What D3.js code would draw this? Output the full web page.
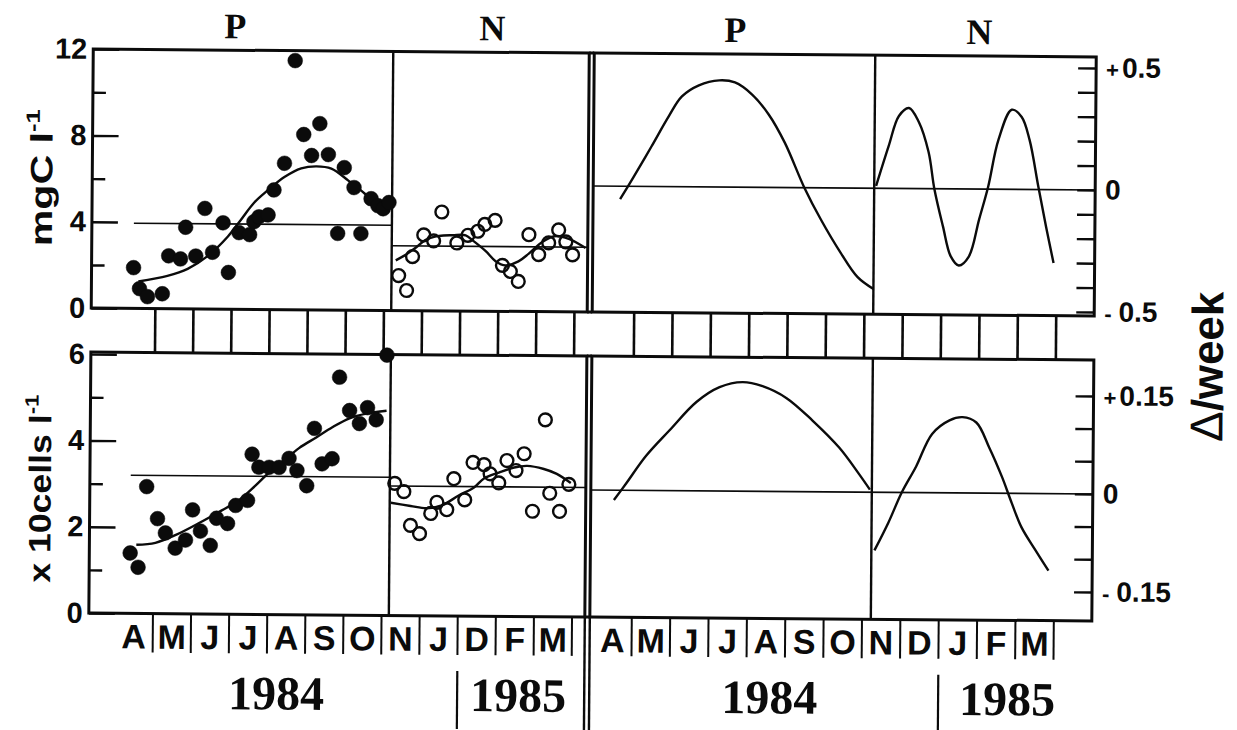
<!DOCTYPE html>
<html>
<head>
<meta charset="utf-8">
<script src="https://cdn.jsdelivr.net/npm/d3@7"></script>
<style>
  html, body { margin: 0; padding: 0; background: #fff; }
  svg { display: block; }
</style>
</head>
<body>
<svg id="chart" width="1237" height="730"></svg>
<script>
// ---------------------------------------------------------------------------
// Data. x values are months elapsed since 1 April 1984.
// ---------------------------------------------------------------------------
const monthsObserved = ["A", "M", "J", "J", "A", "S", "O", "N", "J", "D", "F", "M"];
const monthsRates    = ["A", "M", "J", "J", "A", "S", "O", "N", "D", "J", "F", "M"];
const yearLabels = ["1984", "1985"];
const panelTitles = ["P", "N"];

// Left axes
const carbonTicks = [0, 4, 8, 12];
const carbonMinorTicks = [2, 6, 10];
const cellTicks = [0, 2, 4, 6];
const cellMinorTicks = [1, 3, 5];

// Right axes (rate of change per week)
const carbonRateTicks = [-0.5, -0.4, -0.3, -0.2, -0.1, 0, 0.1, 0.2, 0.3, 0.4, 0.5];
const carbonRateLabelValues = [-0.5, 0, 0.5];
const carbonRateLabels = ["-0.5", "0", "+0.5"];
const cellRateTicks = [-0.15, -0.1, -0.05, 0, 0.05, 0.1, 0.15];
const cellRateLabelValues = [-0.15, 0, 0.15];
const cellRateLabels = ["-0.15", "0", "+0.15"];

// Carbon (mgC l-1), P period: observations and fitted curve
const carbonP = [
  [0.42, 1.89], [0.58, 0.92], [0.79, 0.55], [1.18, 0.69], [1.34, 2.45], [1.65, 2.31],
  [1.78, 3.78], [2.05, 2.45], [2.28, 4.66], [2.49, 2.63], [2.76, 4.00], [2.91, 1.70],
  [3.18, 3.55], [3.46, 3.46], [3.57, 4.06], [3.70, 4.29], [3.94, 4.38], [4.09, 5.54],
  [4.36, 6.78], [4.62, 11.54], [4.86, 8.12], [5.07, 7.15], [5.28, 8.63], [5.51, 7.20],
  [5.77, 3.55], [5.93, 6.60], [6.19, 5.68], [6.38, 3.55], [6.64, 5.17], [6.82, 4.85],
  [6.96, 4.71], [7.11, 5.00]
];
const carbonFitP = [
  [0.55, 1.25], [1.31, 1.52], [1.84, 1.85], [2.36, 2.45], [2.89, 3.37], [3.23, 4.15],
  [3.57, 4.94], [3.94, 5.54], [4.36, 6.14], [4.80, 6.55], [5.20, 6.65], [5.59, 6.55],
  [6.04, 6.00], [6.38, 5.54], [6.72, 5.08], [7.09, 4.94]
];
const carbonMeanP = 3.95;

// Carbon, N period
const carbonN = [
  [7.38, 1.62], [7.59, 0.93], [7.74, 2.50], [8.03, 3.51], [8.29, 3.24], [8.50, 4.58],
  [8.90, 3.15], [9.19, 3.51], [9.45, 3.70], [9.63, 4.02], [9.90, 4.21], [10.10, 2.13],
  [10.31, 1.85], [10.52, 1.39], [10.79, 3.56], [11.05, 2.64], [11.31, 3.19], [11.57, 3.79],
  [11.76, 3.24], [11.94, 2.64]
];
const carbonFitN = [
  [7.30, 2.32], [7.56, 2.59], [7.82, 2.91], [8.08, 3.28], [8.43, 3.47], [8.79, 3.51],
  [9.13, 3.51], [9.34, 3.24], [9.66, 2.78], [9.92, 2.32], [10.18, 2.13], [10.52, 2.32],
  [10.79, 2.68], [11.15, 3.24], [11.50, 3.51], [11.84, 3.38], [12.28, 2.96]
];
const carbonMeanN = 3.0;

// Cells (x10 cells l-1), P period
const cellsP = [
  [0.39, 1.40], [0.60, 1.07], [0.81, 2.94], [1.10, 2.20], [1.31, 1.87], [1.57, 1.52],
  [1.84, 1.71], [2.02, 2.41], [2.23, 1.92], [2.49, 1.59], [2.65, 2.22], [2.94, 2.10],
  [3.15, 2.52], [3.46, 2.64], [3.57, 3.71], [3.75, 3.41], [4.02, 3.41], [4.28, 3.41],
  [4.54, 3.62], [4.75, 3.34], [5.01, 2.99], [5.20, 4.32], [5.41, 3.50], [5.67, 3.62],
  [5.85, 5.51], [6.12, 4.74], [6.38, 4.44], [6.59, 4.81], [6.82, 4.53], [7.09, 6.03]
];
const cellsFitP = [
  [0.55, 1.59], [1.05, 1.64], [1.57, 1.82], [2.18, 2.10], [2.70, 2.36], [3.23, 2.64],
  [3.67, 2.99], [4.02, 3.29], [4.36, 3.53], [4.80, 3.86], [5.25, 4.11], [5.67, 4.35],
  [6.12, 4.56], [6.56, 4.67], [7.09, 4.74]
];
const cellsMeanP = 3.2;

// Cells, N period
const cellsN = [
  [7.32, 3.06], [7.56, 2.87], [7.74, 2.09], [7.98, 1.90], [8.27, 2.37], [8.43, 2.63],
  [8.69, 2.46], [8.87, 3.18], [9.16, 2.69], [9.37, 3.56], [9.66, 3.51], [9.82, 3.30],
  [10.05, 3.09], [10.26, 3.61], [10.50, 3.38], [10.71, 3.77], [10.94, 2.44], [11.26, 4.56],
  [11.39, 2.86], [11.65, 2.44], [11.89, 3.07]
];
const cellsFitN = [
  [7.22, 2.61], [7.74, 2.54], [8.16, 2.49], [8.56, 2.56], [9.00, 2.79], [9.40, 2.98],
  [9.66, 3.19], [10.05, 3.33], [10.45, 3.45], [10.79, 3.49], [11.23, 3.42], [11.57, 3.31],
  [11.94, 3.10]
];
const cellsMeanN = 3.0;

// Weekly rates of change derived from the fitted curves
const rateCarbonP = [
  [0.61, -0.053], [0.97, 0.042], [1.42, 0.165], [1.86, 0.288], [2.20, 0.370], [2.64, 0.416],
  [3.17, 0.437], [3.58, 0.429], [4.03, 0.380], [4.47, 0.298], [4.89, 0.184], [5.41, 0.000],
  [5.85, -0.131], [6.37, -0.266], [6.81, -0.364], [7.23, -0.413]
];
const rateCarbonN = [
  [7.28, 0.010], [7.60, 0.174], [7.86, 0.297], [8.12, 0.330], [8.38, 0.273], [8.64, 0.150],
  [8.80, -0.002], [9.03, -0.154], [9.24, -0.277], [9.45, -0.314], [9.71, -0.277], [9.97, -0.125],
  [10.20, 0.010], [10.46, 0.203], [10.80, 0.326], [11.06, 0.297], [11.27, 0.203], [11.51, 0.010],
  [11.72, -0.154], [11.92, -0.301]
];
const rateCellsP = [
  [0.51, -0.015], [0.82, 0.010], [1.34, 0.053], [1.94, 0.092], [2.64, 0.136], [3.24, 0.159],
  [3.84, 0.167], [4.36, 0.161], [4.99, 0.143], [5.67, 0.109], [6.37, 0.068], [6.89, 0.028],
  [7.18, 0.004]
];
const rateCellsN = [
  [7.31, -0.089], [7.67, -0.046], [8.01, 0.000], [8.38, 0.040], [8.79, 0.090], [9.24, 0.111],
  [9.58, 0.116], [9.94, 0.108], [10.28, 0.070], [10.62, 0.025], [10.88, -0.015], [11.14, -0.052],
  [11.51, -0.087], [11.85, -0.118]
];

// ---------------------------------------------------------------------------
// Layout
// ---------------------------------------------------------------------------
const rowTop = { y0: 53, y1: 312 };
const rowBot = { y0: 356, y1: 617 };
const figL = { x0: 91, div: 391, x1: 587 };
const figR = { x0: 592, div: 873, x1: 1094 };

const ink = "#0b0b0b";
const fontSans = "'Liberation Sans', Arial, Helvetica, sans-serif";
const fontNarrow = "'Liberation Sans Narrow', 'Arial Narrow', 'Liberation Sans', Arial, sans-serif";
const fontSerif = "'Liberation Serif', 'Times New Roman', Times, serif";

// Scales
const xL = d3.scaleLinear().domain([0, 12]).range([117, 574.2]);
const xR = d3.scaleLinear().domain([0, 12]).range([595.6, 1056]);
const yCarbon = d3.scaleLinear().domain([0, 12]).range([rowTop.y1, rowTop.y0]);
const yCells = d3.scaleLinear().domain([0, 6]).range([rowBot.y1, 358]);
const yCarbonRate = d3.scaleLinear().domain([-0.5, 0.5]).range([308, 64]);
const yCellRate = d3.scaleLinear().domain([-0.15, 0.15]).range([588, 392]);

const svg = d3.select("#chart");
// the whole plate sits at a very slight tilt
const root = svg.append("g").attr("transform", "rotate(0.45 588 340)");

function hline(g, x0, x1, y, w) {
  g.append("line").attr("x1", x0).attr("x2", x1).attr("y1", y).attr("y2", y)
    .attr("stroke", ink).attr("stroke-width", w);
}
function vline(g, x, y0, y1, w) {
  g.append("line").attr("x1", x).attr("x2", x).attr("y1", y0).attr("y2", y1)
    .attr("stroke", ink).attr("stroke-width", w);
}

// ---------------------------------------------------------------------------
// Frames
// ---------------------------------------------------------------------------
const frames = root.append("g").attr("fill", "none");
[rowTop, rowBot].forEach(row => {
  [figL, figR].forEach(f => {
    frames.append("rect")
      .attr("x", f.x0).attr("y", row.y0)
      .attr("width", f.x1 - f.x0).attr("height", row.y1 - row.y0)
      .attr("stroke", ink).attr("stroke-width", 3);
    vline(frames, f.div, row.y0, row.y1, 2.4);
  });
  hline(frames, figL.x1, figR.x0, row.y0, 3);
  hline(frames, figL.x1, figR.x0, row.y1, 3);
});

// month ruler between the two rows
for (let i = 1; i <= 12; i++) {
  vline(frames, xL(i), rowTop.y1, rowBot.y0, 2.6);
  vline(frames, xR(i), rowTop.y1, rowBot.y0, 2.6);
}

// month separators under the lower row
for (let i = 1; i <= 12; i++) {
  vline(frames, xL(i), rowBot.y1, 656, 2);
  vline(frames, xR(i), rowBot.y1, 656, 2);
}
// double rule continues down between the two halves
vline(frames, figL.x1, rowBot.y1, 730, 2.4);
vline(frames, figR.x0, rowBot.y1, 730, 2.4);
// year break
vline(frames, xL(9), 672, 730, 2.2);
vline(frames, xR(9), 672, 730, 2.2);

// ---------------------------------------------------------------------------
// Reference lines
// ---------------------------------------------------------------------------
const refs = root.append("g");
hline(refs, xL(carbonP[0][0]), figL.div, yCarbon(carbonMeanP), 1.6);
hline(refs, figL.div, figL.x1, yCarbon(carbonMeanN), 1.6);
hline(refs, xL(cellsP[0][0]), figL.div, yCells(cellsMeanP), 1.6);
hline(refs, figL.div, figL.x1, yCells(cellsMeanN), 1.6);
hline(refs, figR.x0, figR.x1, yCarbonRate(0), 1.6);
hline(refs, figR.x0, figR.x1, yCellRate(0), 1.6);

// ---------------------------------------------------------------------------
// Curves
// ---------------------------------------------------------------------------
function curve(data, xs, ys) {
  root.append("path")
    .datum(data)
    .attr("fill", "none")
    .attr("stroke", ink)
    .attr("stroke-width", 2.4)
    .attr("stroke-linejoin", "round")
    .attr("d", d3.line().x(d => xs(d[0])).y(d => ys(d[1])).curve(d3.curveCatmullRom.alpha(0.5)));
}
curve(carbonFitP, xL, yCarbon);
curve(carbonFitN, xL, yCarbon);
curve(cellsFitP, xL, yCells);
curve(cellsFitN, xL, yCells);
curve(rateCarbonP, xR, yCarbonRate);
curve(rateCarbonN, xR, yCarbonRate);
curve(rateCellsP, xR, yCellRate);
curve(rateCellsN, xR, yCellRate);

// ---------------------------------------------------------------------------
// Observations
// ---------------------------------------------------------------------------
function dots(data, ys, filled) {
  root.append("g").selectAll("circle").data(data).join("circle")
    .attr("cx", d => xL(d[0]))
    .attr("cy", d => ys(d[1]))
    .attr("r", filled ? 7.4 : 6.4)
    .attr("fill", filled ? ink : "none")
    .attr("stroke", ink)
    .attr("stroke-width", filled ? 0.5 : 2.4);
}
dots(carbonP, yCarbon, true);
dots(carbonN, yCarbon, false);
dots(cellsP, yCells, true);
dots(cellsN, yCells, false);

// ---------------------------------------------------------------------------
// Axes
// ---------------------------------------------------------------------------
function styleAxis(g, size) {
  g.select(".domain").remove();
  g.attr("font-family", fontSans).attr("font-weight", "bold").attr("font-size", size);
  g.selectAll(".tick line").attr("stroke", ink).attr("stroke-width", 2.4);
  g.selectAll(".tick text").attr("fill", ink);
}
function signLabels(g) {
  g.selectAll(".tick text").each(function () {
    const t = d3.select(this);
    const s = t.text();
    if (/^[+-]/.test(s)) {
      t.text(null);
      t.append("tspan").attr("font-size", 22).text(s[0] === "-" ? "-" : "+");
      t.append("tspan").attr("dx", s[0] === "-" ? 7 : 3).text(s.slice(1));
    }
  });
}

// left: carbon
root.append("g").attr("transform", `translate(${figL.x0},0)`)
  .call(d3.axisLeft(yCarbon).tickValues(carbonMinorTicks).tickSize(-13).tickFormat(""))
  .call(g => styleAxis(g, 29));
root.append("g").attr("transform", `translate(${figL.x0},0)`)
  .call(d3.axisLeft(yCarbon).tickValues(carbonTicks).tickSize(-26).tickPadding(6).tickFormat(d3.format("d")))
  .call(g => styleAxis(g, 29));

// left: cells
root.append("g").attr("transform", `translate(${figL.x0},0)`)
  .call(d3.axisLeft(yCells).tickValues(cellMinorTicks).tickSize(-13).tickFormat(""))
  .call(g => styleAxis(g, 29));
root.append("g").attr("transform", `translate(${figL.x0},0)`)
  .call(d3.axisLeft(yCells).tickValues(cellTicks).tickSize(-26).tickPadding(6).tickFormat(d3.format("d")))
  .call(g => styleAxis(g, 29));

// right: carbon rate
root.append("g").attr("transform", `translate(${figR.x1},0)`)
  .call(d3.axisRight(yCarbonRate).tickValues(carbonRateTicks).tickSize(-18).tickFormat(""))
  .call(g => styleAxis(g, 28));
root.append("g").attr("transform", `translate(${figR.x1},0)`)
  .call(d3.axisRight(yCarbonRate).tickValues(carbonRateLabelValues).tickSize(0).tickPadding(10)
    .tickFormat((d, i) => carbonRateLabels[i]))
  .call(g => styleAxis(g, 28))
  .call(signLabels);

// right: cell rate
root.append("g").attr("transform", `translate(${figR.x1},0)`)
  .call(d3.axisRight(yCellRate).tickValues(cellRateTicks).tickSize(-18).tickFormat(""))
  .call(g => styleAxis(g, 28));
root.append("g").attr("transform", `translate(${figR.x1},0)`)
  .call(d3.axisRight(yCellRate).tickValues(cellRateLabelValues).tickSize(0).tickPadding(10)
    .tickFormat((d, i) => cellRateLabels[i]))
  .call(g => styleAxis(g, 28))
  .call(signLabels);

// ---------------------------------------------------------------------------
// Month and year labels
// ---------------------------------------------------------------------------
const monthText = root.append("g")
  .attr("font-family", fontNarrow).attr("font-weight", "bold").attr("font-size", 34)
  .attr("text-anchor", "middle").attr("fill", ink);
monthText.selectAll("text.ml").data(monthsObserved).join("text").attr("class", "ml")
  .attr("x", (d, i) => xL(i + 0.5)).attr("y", 652).text(d => d);
monthText.selectAll("text.mr").data(monthsRates).join("text").attr("class", "mr")
  .attr("x", (d, i) => xR(i + 0.5)).attr("y", 652).text(d => d);

const yearText = root.append("g")
  .attr("font-family", fontSerif).attr("font-weight", "bold").attr("font-size", 48)
  .attr("text-anchor", "middle").attr("fill", ink);
[[xL, 4.25, 0], [xL, 10.6, 1], [xR, 4.6, 0], [xR, 10.8, 1]].forEach(([s, m, k]) => {
  yearText.append("text").attr("x", s(m)).attr("y", 712).text(yearLabels[k]);
});

// ---------------------------------------------------------------------------
// Panel titles
// ---------------------------------------------------------------------------
const titleText = root.append("g")
  .attr("font-family", fontSerif).attr("font-weight", "bold").attr("font-size", 36)
  .attr("text-anchor", "middle").attr("fill", ink);
[[233, 0], [490, 1], [733, 0], [977, 1]].forEach(([x, k]) => {
  titleText.append("text").attr("x", x).attr("y", 41).text(panelTitles[k]);
});

// ---------------------------------------------------------------------------
// Axis titles (vertical, stretched along the reading direction)
// ---------------------------------------------------------------------------
function verticalTitle(parts, bx, cy, length, size) {
  const g = root.append("g");
  const t = g.append("text")
    .attr("font-family", fontSans).attr("font-weight", "bold").attr("font-size", size)
    .attr("text-anchor", "middle").attr("fill", ink);
  parts.forEach(p => {
    const ts = t.append("tspan").text(p.text);
    if (p.sup) ts.attr("font-size", size * 0.62).attr("dy", -size * 0.42);
    if (p.weight) ts.attr("font-weight", p.weight);
    if (p.size) ts.attr("font-size", p.size);
  });
  const w = t.node().getComputedTextLength();
  g.attr("transform", `translate(${bx},${cy}) rotate(-90) scale(${length / w},1)`);
}
verticalTitle([{ text: "mgC l" }, { text: "-1", sup: true }], 51, 182, 137, 31);
verticalTitle([{ text: "x 10cells l" }, { text: "-1", sup: true }], 52, 493, 188, 31);
verticalTitle([{ text: "\u0394", weight: "normal", size: 46 }, { text: "/week" }], 1223, 362, 150, 44);
</script>
</body>
</html>
